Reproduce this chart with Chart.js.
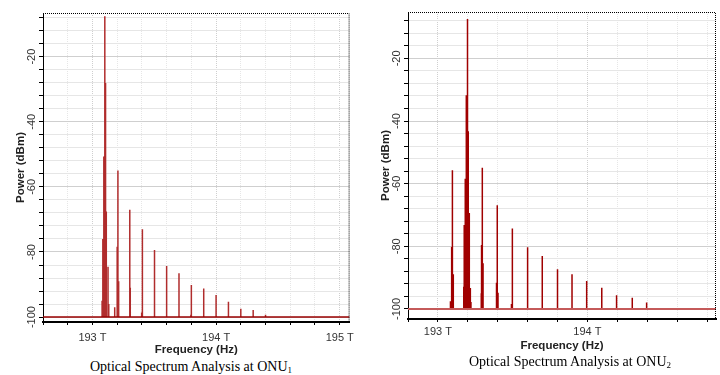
<!DOCTYPE html>
<html>
<head>
<meta charset="utf-8">
<script src="https://cdn.jsdelivr.net/npm/chart.js@4.4.1/dist/chart.umd.min.js"></script>
<style>
  html, body { margin: 0; padding: 0; background: #fff; }
  body { width: 720px; height: 375px; position: relative; overflow: hidden; }
  .box { position: absolute; top: 0; width: 360px; }
  .caption { position: absolute; width: 360px; text-align: center;
             font-family: 'Liberation Serif', 'Times New Roman', serif; font-size: 14px; color: #000; }
  .caption sub { font-size: 9px; vertical-align: -2px; }
</style>
</head>
<body>
<div class="box" style="left:0;height:358px"><canvas id="onu1"></canvas></div>
<div class="box" style="left:360px;height:356px"><canvas id="onu2"></canvas></div>
<div class="caption" style="left:11px;top:359px">Optical Spectrum Analysis at ONU<sub>1</sub></div>
<div class="caption" style="left:390px;top:354px">Optical Spectrum Analysis at ONU<sub>2</sub></div>
<script>
// noise floor of the analyser (dBm)
const noiseFloor = -100;

// ONU1 spectrum lines: frequency (THz) and power (dBm)
const onu1Freq = [193.078, 193.084, 193.092, 193.100, 193.106, 193.112, 193.126, 193.132,
                  193.180, 193.200, 193.206, 193.212, 193.302, 193.306, 193.398, 193.404,
                  193.502, 193.600, 193.700, 193.796, 193.800, 193.900, 194.000, 194.100,
                  194.200, 194.300, 194.400];
const onu1Power = [-95, -76, -50.7, -7.6, -28.1, -67.6, -84.5, -96,
                   -97, -78.4, -55, -89, -67, -91, -98.6, -73,
                   -79.4, -84.3, -86.5, -99.3, -90.1, -91.2, -93.2, -95.3,
                   -97.4, -97.8, -99.3];

// ONU2 spectrum lines
const onu2Freq = [193.084, 193.092, 193.097, 193.103, 193.173, 193.176, 193.183, 193.190,
                  193.198, 193.203, 193.210, 193.217, 193.221, 193.290, 193.292, 193.297,
                  193.302, 193.392, 193.397, 193.402, 193.492, 193.498, 193.600, 193.698,
                  193.800, 193.897, 193.995, 194.096, 194.195, 194.300, 194.396];
const onu2Power = [-97.5, -80.2, -55.7, -88.9, -92.9, -73.2, -58.4, -31.8,
                   -7.4, -43.3, -69.4, -93.3, -97.8, -95, -79.6, -54.9,
                   -85.4, -91.6, -66.9, -94.8, -98.4, -74.3, -80.3, -83.1,
                   -87.3, -88.9, -91.1, -93.2, -95.6, -96.4, -97.9];

// tick positions
const onu1XTicks = [192.6, 192.8, 193.0, 193.2, 193.4, 193.6, 193.8, 194.0, 194.2, 194.4, 194.6, 194.8, 195.0];
const onu2XTicks = [192.8, 193.0, 193.2, 193.4, 193.6, 193.8, 194.0, 194.2, 194.4, 194.6, 194.8];
const yTicks = [-100, -96, -92, -88, -84, -80, -76, -72, -68, -64, -60, -56, -52, -48, -44, -40,
                -36, -32, -28, -24, -20, -16, -12, -8];

const FONT = "'Liberation Sans', Arial, sans-serif";

// dotted frame on top and right of the plot area
const framePlugin = {
    id: 'frame',
    afterDraw(chart) {
        const {ctx, chartArea: a} = chart;
        ctx.save();
        ctx.strokeStyle = '#000';
        ctx.lineWidth = 1;
        ctx.setLineDash([1, 1]);
        ctx.beginPath();
        ctx.moveTo(a.left, a.top + 0.5);
        ctx.lineTo(a.right - 0.5, a.top + 0.5);
        ctx.lineTo(a.right - 0.5, a.bottom);
        ctx.stroke();
        ctx.restore();
    }
};

function isWhole(v) {
    return Math.abs(v - Math.round(v)) < 1e-6;
}

function makeChart(id, freq, power, xTicks, o) {
    const spikes = [];
    const order = freq.map((f, i) => i).sort((a, b) => freq[a] - freq[b]);
    order.forEach(i => {
        spikes.push({x: freq[i], y: noiseFloor});
        spikes.push({x: freq[i], y: power[i]});
        spikes.push({x: freq[i], y: null});
    });

    new Chart(document.getElementById(id), {
        type: 'line',
        data: {
            datasets: [{
                data: [{x: o.xMin, y: noiseFloor}, {x: o.xMax, y: noiseFloor}],
                borderColor: o.floorColor,
                borderWidth: o.floorWidth,
                pointRadius: 0
            }, {
                data: spikes,
                borderColor: o.spikeColor,
                borderWidth: 1.5,
                pointRadius: 0,
                spanGaps: false
            }]
        },
        options: {
            responsive: true,
            maintainAspectRatio: false,
            animation: false,
            layout: {padding: {top: o.top, right: o.right, left: 0, bottom: 0}},
            plugins: {legend: {display: false}, tooltip: {enabled: false}},
            scales: {
                x: {
                    type: 'linear',
                    min: o.xMin,
                    max: o.xMax,
                    afterBuildTicks: s => { s.ticks = xTicks.map(v => ({value: v})); },
                    afterFit: s => { s.height = o.xHeight; },
                    ticks: {
                        autoSkip: false,
                        maxRotation: 0,
                        padding: o.xPad,
                        color: '#333',
                        font: {family: FONT, size: 11},
                        callback: v => isWhole(v) ? Math.round(v) + ' T' : ''
                    },
                    grid: {
                        color: c => isWhole(c.tick.value) ? '#cfcfcf' : '#e6e6e6',
                        tickColor: '#000',
                        tickLength: 3
                    },
                    border: {color: '#000', width: 2, dash: [1, 1]},
                    title: {
                        display: true,
                        text: 'Frequency (Hz)',
                        color: '#222',
                        font: {family: FONT, size: 11.5, weight: 'bold'},
                        padding: {top: 0, bottom: o.xTitlePad}
                    }
                },
                y: {
                    min: o.yMin,
                    max: o.yMax,
                    afterBuildTicks: s => { s.ticks = yTicks.map(v => ({value: v})); },
                    afterFit: s => { s.width = o.yWidth; },
                    ticks: {
                        autoSkip: false,
                        minRotation: 90,
                        maxRotation: 90,
                        crossAlign: 'center',
                        padding: o.yPad,
                        color: '#333',
                        font: {family: FONT, size: 11},
                        callback: v => v % 20 === 0 ? String(v) : ''
                    },
                    grid: {
                        color: c => c.tick.value % 20 === 0 ? '#cfcfcf' : '#e6e6e6',
                        tickColor: '#000',
                        tickLength: 4
                    },
                    border: {color: '#000', width: 1},
                    title: {
                        display: true,
                        text: 'Power (dBm)',
                        color: '#222',
                        font: {family: FONT, size: 11.5, weight: 'bold'},
                        padding: {top: o.yTitlePad, bottom: 0}
                    }
                }
            }
        },
        plugins: [framePlugin]
    });
}

makeChart('onu1', onu1Freq, onu1Power, onu1XTicks, {
    xMin: 192.6, xMax: 195.08, yMin: -101.5, yMax: -6.6,
    top: 13, right: 7, xHeight: 36, yWidth: 43,
    xPad: 6, xTitlePad: 1, yPad: -4, yTitlePad: 14,
    floorColor: '#9a0000', floorWidth: 1.5, spikeColor: '#b02c2c'
});

makeChart('onu2', onu2Freq, onu2Power, onu2XTicks, {
    xMin: 192.8, xMax: 194.86, yMin: -103.2, yMax: -5.2,
    top: 12, right: 4, xHeight: 37, yWidth: 48,
    xPad: 3.5, xTitlePad: 3, yPad: -4, yTitlePad: 19,
    floorColor: '#c45a5a', floorWidth: 2, spikeColor: '#a00000'
});
</script>
</body>
</html>
